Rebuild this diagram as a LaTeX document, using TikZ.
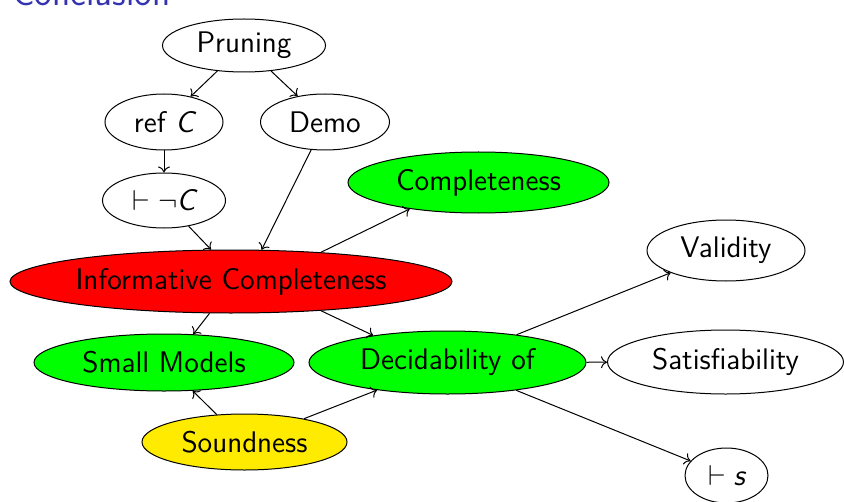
\documentclass[tikz,border=0pt]{standalone}
\usetikzlibrary{shapes.geometric,arrows.meta}
\definecolor{titleblue}{rgb}{0.2,0.2,0.7}
\definecolor{soundyellow}{RGB}{255,235,0}
\tikzset{
  ovalsize/.style 2 args={minimum width=#1*0.5pt, minimum height=#2*0.5pt},
  topic/.style={ellipse, draw, inner sep=0pt, line width=0.5pt},
  link/.style={-{To[length=3pt,width=6pt]}, line width=0.5pt},
}
\begin{document}
\begin{tikzpicture}[x=0.5pt, y=-0.5pt,
  every node/.style={font=\fontsize{14.9}{17}\selectfont\sffamily}]
\useasboundingbox (0,0) rectangle (844,502);

% frame title, partly above the page
\node[anchor=base west, text=titleblue, inner sep=0pt,
      font=\fontsize{18.7}{21}\selectfont\sffamily] (title) at (12,6) {Conclusion};

% nodes
\node[topic, ovalsize={163}{53}] (prun) at (244,45.5) {Pruning};
\node[topic, ovalsize={118}{56}] (refc) at (164,122) {ref {\itshape C}};
\node[topic, ovalsize={129}{56}] (demo) at (325,122) {Demo};
\node[topic, ovalsize={123}{55}] (negc) at (164,200.5) {$\vdash\neg$\kern-0.5pt{\itshape C}};
\node[topic, fill=green, ovalsize={261}{61}] (compl) at (478.5,182.5) {Completeness};
\node[topic, fill=red, ovalsize={442}{63}] (ic) at (231,281.5) {Informative Completeness};
\node[topic, ovalsize={158}{61}] (valid) at (726,250.5) {Validity};
\node[topic, fill=green, ovalsize={260}{57}] (small) at (164,362.5) {Small Models};
\node[topic, fill=green, ovalsize={277}{63}] (decid) at (447.5,362.5) {Decidability of};
\node[topic, ovalsize={236}{64}] (satis) at (725.5,362) {Satisfiability};
\node[topic, fill=soundyellow, ovalsize={205}{56}] (sound) at (244.5,442) {Soundness};
\node[topic, ovalsize={83}{55}] (ders) at (726.5,475.5) {$\vdash{}$\itshape s};

% connectors
\draw[link] (prun) -- (refc);
\draw[link] (prun) -- (demo);
\draw[link] (refc) -- (negc);
\draw[link] (negc) -- (ic.122);
\draw[link] (demo) -- (ic.46.4);
\draw[link] (ic.18.6) -- (compl.201);
\draw[link] (ic.236.3) -- (small.44.5);
\draw[link] (ic.342.3) -- (decid.160);
\draw[link] (sound) -- (small);
\draw[link] (sound) -- (decid);
\draw[link] (decid) -- (valid);
\draw[link] (decid) -- (satis);
\draw[link] (decid) -- (ders);
\end{tikzpicture}
\end{document}
